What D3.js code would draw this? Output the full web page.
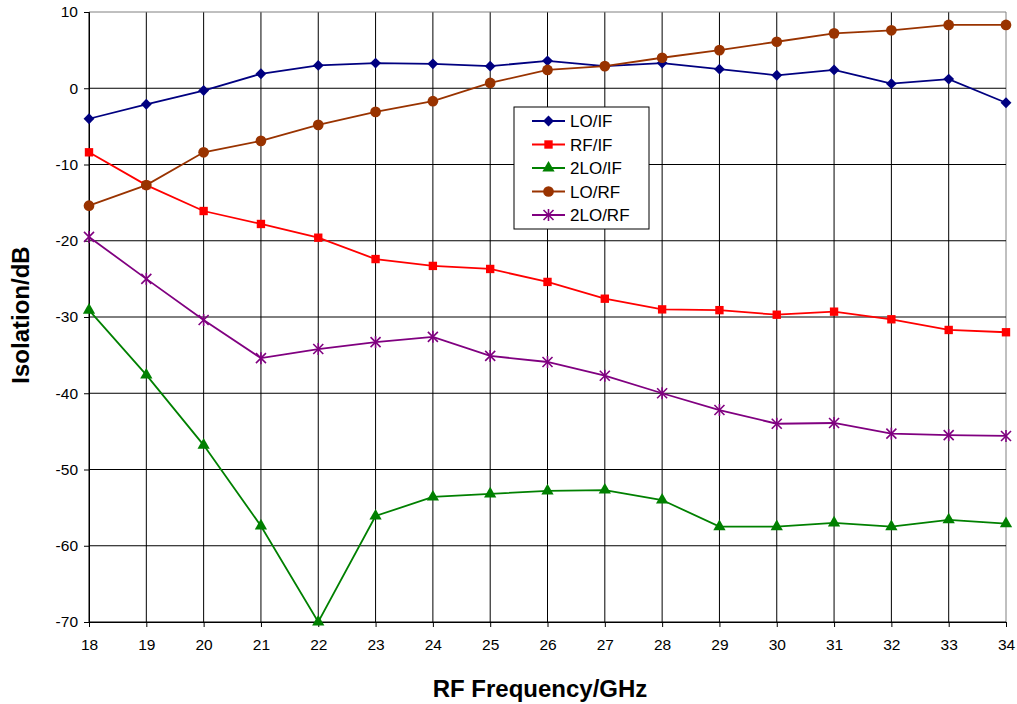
<!DOCTYPE html>
<html>
<head>
<meta charset="utf-8">
<script src="https://d3js.org/d3.v7.min.js"></script>
<style>
  body { margin: 0; background: #fff; }
  text { font-family: "Liberation Sans", Arial, sans-serif; }
</style>
</head>
<body>
<div id="viz"></div>
<script>
const freqs = [18, 19, 20, 21, 22, 23, 24, 25, 26, 27, 28, 29, 30, 31, 32, 33, 34];
const yTicks = [10, 0, -10, -20, -30, -40, -50, -60, -70];

const loIf   = [-4.0, -2.1, -0.3, 1.9, 3.0, 3.3, 3.2, 2.9, 3.6, 2.9, 3.3, 2.5, 1.7, 2.4, 0.6, 1.2, -1.9];
const rfIf   = [-8.4, -12.7, -16.1, -17.8, -19.6, -22.4, -23.3, -23.7, -25.4, -27.6, -29.0, -29.1, -29.7, -29.3, -30.3, -31.7, -32.0];
const lo2If  = [-29.1, -37.6, -46.8, -57.4, -70.0, -56.1, -53.6, -53.2, -52.8, -52.7, -54.0, -57.5, -57.5, -57.0, -57.5, -56.6, -57.1];
const loRf   = [-15.4, -12.7, -8.4, -6.9, -4.8, -3.1, -1.7, 0.7, 2.4, 2.9, 4.0, 5.0, 6.1, 7.2, 7.6, 8.3, 8.3];
const lo2Rf  = [-19.5, -25.0, -30.4, -35.4, -34.2, -33.3, -32.6, -35.1, -35.9, -37.7, -40.0, -42.2, -44.0, -43.9, -45.3, -45.5, -45.6];

const seriesNames = ["LO/IF", "RF/IF", "2LO/IF", "LO/RF", "2LO/RF"];
const seriesValues = [loIf, rfIf, lo2If, loRf, lo2Rf];
const seriesColors = ["#000080", "#ff0000", "#008000", "#993300", "#800080"];
const seriesSymbols = ["diamond", "square", "triangle", "circle", "star"];

const W = 1017, H = 704;
const margin = {top: 12, right: 11, bottom: 82, left: 89};
const width = W - margin.left - margin.right;
const height = H - margin.top - margin.bottom;

const svg = d3.select("#viz").append("svg")
  .attr("width", W).attr("height", H);
const g = svg.append("g").attr("transform", `translate(${margin.left},${margin.top})`);

const x = d3.scaleLinear().domain([18, 34]).range([0, width]);
const y = d3.scaleLinear().domain([-70, 10]).range([height, 0]);

// grid
g.append("g").selectAll("line")
  .data(freqs)
  .join("line")
  .attr("x1", d => x(d)).attr("x2", d => x(d))
  .attr("y1", 0).attr("y2", height)
  .attr("stroke", d => d === 34 ? "#808080" : "#000")
  .attr("stroke-width", 1);
g.append("g").selectAll("line")
  .data(yTicks)
  .join("line")
  .attr("x1", 0).attr("x2", width)
  .attr("y1", d => y(d)).attr("y2", d => y(d))
  .attr("stroke", d => d === 10 ? "#808080" : "#000")
  .attr("stroke-width", 1);

// axes
const xAxis = g.append("g")
  .attr("transform", `translate(0,${height})`)
  .call(d3.axisBottom(x).tickValues(freqs).tickFormat(d3.format("d")).tickSize(5).tickPadding(12));
const yAxis = g.append("g")
  .call(d3.axisLeft(y).tickValues(yTicks).tickSize(5).tickPadding(6).tickFormat(d => d < 0 ? "-" + Math.abs(d) : d));
[xAxis, yAxis].forEach(a => {
  a.select(".domain").attr("stroke", "#000");
  a.selectAll(".tick line").attr("stroke", "#000");
  a.selectAll("text").style("font-size", "15.5px").attr("fill", "#000")
    .style("font-family", "Liberation Sans, Arial, sans-serif");
});

// lines and markers
const line = d3.line().x((d, i) => x(freqs[i])).y(d => y(d));
const symbolMap = {
  diamond: d3.symbol().type(d3.symbolDiamond2).size(75),
  square: d3.symbol().type(d3.symbolSquare).size(70),
  triangle: d3.symbol().type(d3.symbolTriangle).size(65),
  circle: d3.symbol().type(d3.symbolCircle).size(90)
};

function drawMarker(sel, k) {
  if (seriesSymbols[k] === "star") {
    const s = 5;
    const segs = [[-s, -s, s, s], [-s, s, s, -s], [0, -s - 1, 0, s + 1]];
    sel.selectAll("line")
      .data(segs)
      .join("line")
      .attr("x1", d => d[0]).attr("y1", d => d[1])
      .attr("x2", d => d[2]).attr("y2", d => d[3])
      .attr("stroke", seriesColors[k]).attr("stroke-width", 1.6);
  } else {
    sel.append("path")
      .attr("d", symbolMap[seriesSymbols[k]]())
      .attr("fill", seriesColors[k]);
  }
}

seriesValues.forEach((vals, k) => {
  g.append("path")
    .datum(vals)
    .attr("d", line)
    .attr("fill", "none")
    .attr("stroke", seriesColors[k])
    .attr("stroke-width", 1.8);
  vals.forEach((v, i) => {
    const m = g.append("g").attr("transform", `translate(${x(freqs[i])},${y(v)})`);
    drawMarker(m, k);
  });
});

// legend
const legend = svg.append("g").attr("transform", "translate(514,107)");
legend.append("rect")
  .attr("width", 135).attr("height", 122)
  .attr("fill", "#fff").attr("stroke", "#000").attr("stroke-width", 1);
seriesNames.forEach((name, k) => {
  const row = legend.append("g").attr("transform", `translate(0,${14 + k * 23.5})`);
  row.append("line")
    .attr("x1", 18).attr("x2", 51)
    .attr("stroke", seriesColors[k]).attr("stroke-width", 1.8);
  const m = row.append("g").attr("transform", "translate(34.5,0)");
  drawMarker(m, k);
  row.append("text")
    .attr("x", 56).attr("y", 0).attr("dy", "0.36em")
    .style("font-size", "17px")
    .text(name);
});

// axis titles
svg.append("text")
  .attr("transform", `translate(29,315) rotate(-90)`)
  .attr("text-anchor", "middle")
  .style("font-size", "24px").style("font-weight", "bold")
  .text("Isolation/dB");
svg.append("text")
  .attr("x", 540)
  .attr("y", 697)
  .attr("text-anchor", "middle")
  .style("font-size", "24px").style("font-weight", "bold")
  .text("RF Frequency/GHz");
</script>
</body>
</html>
